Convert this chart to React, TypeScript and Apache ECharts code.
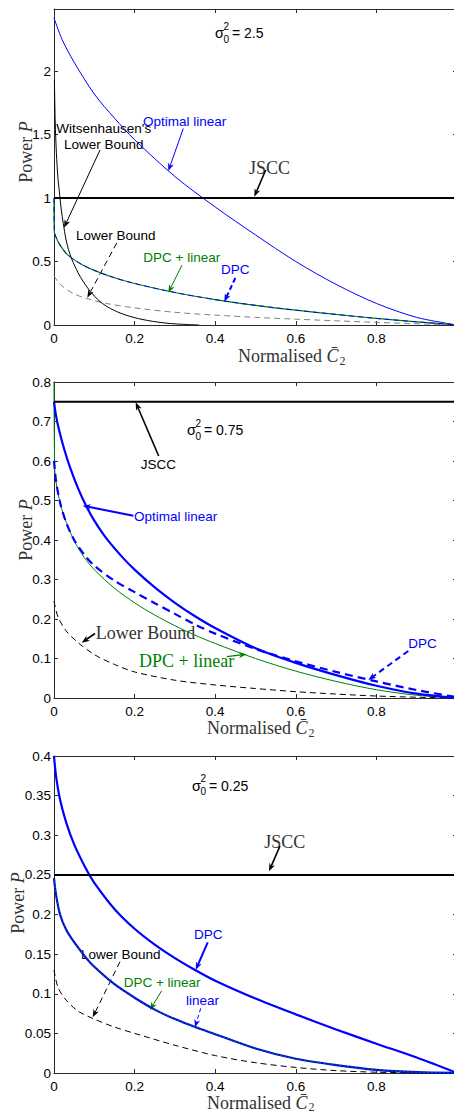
import React, { useEffect, useRef } from 'react';
import * as echarts from 'echarts';

// ---------- σ0² = 2.5 ----------
const optLin1X = [0, 0.02, 0.05, 0.1, 0.15, 0.2, 0.3, 0.4, 0.5, 0.6, 0.7, 0.8, 0.9, 1.0];
const optLin1Y = [2.42, 2.25, 2.07, 1.82, 1.63, 1.46, 1.17, 0.93, 0.71, 0.5, 0.32, 0.17, 0.06, 0];
const wit1X = [0.001, 0.003, 0.006, 0.01, 0.014, 0.018, 0.023, 0.03, 0.036, 0.044, 0.06, 0.073, 0.09, 0.114, 0.14, 0.172, 0.21, 0.255, 0.3, 0.36];
const wit1Y = [1.93, 1.6, 1.35, 1.15, 1.03, 0.91, 0.8, 0.67, 0.595, 0.52, 0.41, 0.34, 0.265, 0.185, 0.13, 0.085, 0.05, 0.024, 0.009, 0];
const dpcLin1X = [0, 0.001, 0.004, 0.008, 0.015, 0.03, 0.045, 0.07, 0.1, 0.15, 0.2, 0.3, 0.4, 0.5, 0.6, 0.7, 0.8, 0.9, 1.0];
const dpcLin1Y = [1.0, 0.73, 0.7, 0.67, 0.63, 0.565, 0.525, 0.475, 0.43, 0.372, 0.327, 0.256, 0.2, 0.155, 0.117, 0.083, 0.052, 0.025, 0];
const dpc1X = dpcLin1X;
const dpc1Y = [1.0, 0.73, 0.7, 0.67, 0.63, 0.565, 0.525, 0.475, 0.43, 0.372, 0.327, 0.256, 0.2, 0.155, 0.117, 0.083, 0.052, 0.025, 0];
const lower1X = [0, 0.01, 0.025, 0.05, 0.08, 0.13, 0.2, 0.3, 0.4, 0.5, 0.6, 0.7, 0.8, 0.9, 1.0];
const lower1Y = [0.39, 0.34, 0.295, 0.245, 0.21, 0.17, 0.135, 0.1, 0.078, 0.06, 0.046, 0.033, 0.021, 0.01, 0];
const jscc1 = 1.0;

// ---------- σ0² = 0.75 ----------
const optLin2X = [0, 0.005, 0.012, 0.025, 0.04, 0.06, 0.08, 0.1, 0.13, 0.17, 0.2, 0.25, 0.3, 0.35, 0.4, 0.5, 0.6, 0.7, 0.8, 0.9, 1.0];
const optLin2Y = [0.75, 0.715, 0.681, 0.631, 0.583, 0.53, 0.486, 0.449, 0.404, 0.356, 0.325, 0.28, 0.241, 0.207, 0.177, 0.126, 0.089, 0.058, 0.031, 0.011, 0];
const dpcLin2X = [0, 0.002, 0.007, 0.015, 0.025, 0.05, 0.075, 0.1, 0.15, 0.2, 0.25, 0.3, 0.35, 0.4, 0.5, 0.6, 0.7, 0.8, 0.9, 1.0];
const dpcLin2Y = [0.8, 0.575, 0.535, 0.495, 0.46, 0.398, 0.356, 0.325, 0.278, 0.241, 0.21, 0.183, 0.159, 0.138, 0.1, 0.068, 0.042, 0.021, 0.007, 0];
const dpc2X = [0, 0.005, 0.015, 0.03, 0.05, 0.075, 0.1, 0.15, 0.2, 0.25, 0.3, 0.35, 0.4, 0.5, 0.6, 0.7, 0.8, 0.9, 1.0];
const dpc2Y = [0.6, 0.55, 0.495, 0.445, 0.4, 0.363, 0.335, 0.297, 0.268, 0.24, 0.213, 0.186, 0.163, 0.124, 0.093, 0.066, 0.042, 0.02, 0.002];
const lower2X = [0, 0.01, 0.03, 0.06, 0.1, 0.15, 0.2, 0.3, 0.4, 0.5, 0.6, 0.7, 0.8, 0.9, 1.0];
const lower2Y = [0.245, 0.205, 0.17, 0.14, 0.11, 0.085, 0.066, 0.045, 0.033, 0.024, 0.016, 0.01, 0.005, 0.002, 0];
const jscc2 = 0.75;

// ---------- σ0² = 0.25 ----------
const dpc3X = [0, 0.005, 0.015, 0.03, 0.05, 0.08, 0.1, 0.15, 0.2, 0.25, 0.3, 0.35, 0.4, 0.5, 0.6, 0.7, 0.8, 0.9, 1.0];
const dpc3Y = [0.4, 0.375, 0.345, 0.3165, 0.2885, 0.257, 0.24, 0.207, 0.182, 0.162, 0.145, 0.13, 0.1165, 0.094, 0.074, 0.055, 0.037, 0.0195, 0];
const dpcLin3X = [0, 0.005, 0.015, 0.03, 0.05, 0.08, 0.1, 0.15, 0.2, 0.25, 0.3, 0.35, 0.4, 0.5, 0.6, 0.7, 0.8, 0.9, 1.0];
const dpcLin3Y = [0.246, 0.225, 0.2, 0.181, 0.165, 0.145, 0.134, 0.112, 0.095, 0.08, 0.068, 0.058, 0.049, 0.031, 0.018, 0.01, 0.004, 0.001, 0];
const lin3X = dpcLin3X;
const lin3Y = [0.246, 0.225, 0.2, 0.181, 0.165, 0.145, 0.134, 0.112, 0.095, 0.08, 0.068, 0.058, 0.049, 0.031, 0.018, 0.01, 0.004, 0.001, 0];
const lower3X = [0, 0.01, 0.03, 0.06, 0.1, 0.15, 0.2, 0.3, 0.4, 0.5, 0.6, 0.7, 0.8, 0.9, 1.0];
const lower3Y = [0.13, 0.108, 0.092, 0.078, 0.068, 0.058, 0.05, 0.035, 0.022, 0.013, 0.007, 0.003, 0.001, 0.0003, 0];
const jscc3 = 0.25;

// axis ranges and tick steps per panel
const yMax = [2.49, 0.8, 0.4];
const yStep = [0.5, 0.1, 0.05];
const xTickStep = 0.2;

const SANS = '"Liberation Sans", Arial, sans-serif';
const SERIF = '"Liberation Serif", "Times New Roman", serif';
const BLUE = '#0000ff';
const GREEN = '#008000';
const AXIS = '#2a2a2a';

const zip = (xs: number[], ys: number[]) => xs.map((x, i) => [x, ys[i]]);

function lineSeries(g: number, xs: number[], ys: number[], color: string, width: number, dash?: number[]) {
  return {
    type: 'line',
    xAxisIndex: 2 * g,
    yAxisIndex: 2 * g,
    data: zip(xs, ys),
    showSymbol: false,
    smooth: 0.3,
    silent: true,
    lineStyle: { color, width, type: dash ? dash : 'solid' },
  };
}

function jsccSeries(g: number, v: number) {
  return { ...lineSeries(g, [0, 1], [v, v], '#000', 2), smooth: false };
}

function arrow(x1: number, y1: number, x2: number, y2: number, color: string, width: number, dash?: number[], head = 8) {
  const a = Math.atan2(y2 - y1, x2 - x1);
  const c = Math.cos(a), s = Math.sin(a);
  const w = head * 0.38;
  const bx = x2 - head * c, by = y2 - head * s;
  const nx = x2 - head * 0.7 * c, ny = y2 - head * 0.7 * s;
  return [
    { type: 'line', silent: true, shape: { x1, y1, x2: nx, y2: ny }, style: { stroke: color, lineWidth: width, lineDash: dash || null } },
    {
      type: 'polygon', silent: true,
      shape: { points: [[x2, y2], [bx - w * s, by + w * c], [nx, ny], [bx + w * s, by - w * c]] },
      style: { fill: color },
    },
  ];
}

function txt(x: number, y: number, text: string, color: string, font: string, size: number, align = 'left') {
  return {
    type: 'text', silent: true, x, y,
    style: { text, fill: color, fontFamily: font, fontSize: size, align, verticalAlign: 'middle' },
  };
}

function sigma(x: number, y: number, value: string) {
  return [
    txt(x, y, 'σ', '#000', SANS, 14.5),
    txt(x + 8.5, y - 7, '2', '#000', SANS, 10),
    txt(x + 8.5, y + 6, '0', '#000', SANS, 10),
    txt(x + 17, y, '= ' + value, '#000', SANS, 14),
  ];
}

function powerTitle(x: number, y: number) {
  return {
    type: 'text', silent: true, x, y, rotation: Math.PI / 2,
    style: {
      text: 'Power {i|P}', fill: '#333', fontFamily: SERIF, fontSize: 18,
      align: 'center', verticalAlign: 'middle',
      rich: { i: { fontFamily: SERIF, fontSize: 18, fontStyle: 'italic', fill: '#333' } },
    },
  };
}

function normTitle(x: number, y: number) {
  return {
    type: 'text', silent: true, x, y,
    style: {
      text: 'Normalised {c|C\u0304}{s|2}', fill: '#333', fontFamily: SERIF, fontSize: 18,
      align: 'left', verticalAlign: 'middle',
      rich: {
        c: { fontFamily: SERIF, fontSize: 18, fontStyle: 'italic', fill: '#333' },
        s: { fontFamily: SERIF, fontSize: 12, fill: '#333', padding: [9, 0, 0, 1] },
      },
    },
  };
}

const grids = [
  { left: 54, width: 403, top: 9, height: 316 },
  { left: 54, width: 403, top: 382, height: 316 },
  { left: 54, width: 403, top: 756, height: 317 },
];

function fmtY(g: number) {
  return (v: number) => {
    const k = v / yStep[g];
    if (Math.abs(k - Math.round(k)) > 1e-6) return '';
    return String(parseFloat(v.toFixed(2)));
  };
}

export default function App() {
  const ref = useRef<HTMLDivElement>(null);

  useEffect(() => {
    if (!ref.current) return;
    const chart = echarts.init(ref.current, null, { renderer: 'svg' });

    const xAxes: any[] = [];
    const yAxes: any[] = [];
    grids.forEach((_, g) => {
      const lineStyle = { color: AXIS, width: 1 };
      xAxes.push({
        type: 'value', gridIndex: g, position: 'bottom', min: 0, max: 1, interval: xTickStep,
        axisLine: { show: true, onZero: false, lineStyle },
        axisTick: { show: true, inside: true, length: 4, lineStyle },
        axisLabel: {
          show: true, margin: 6, color: '#000', fontFamily: SANS, fontSize: 13.5, showMaxLabel: false,
          formatter: (v: number) => String(parseFloat(v.toFixed(2))),
        },
        splitLine: { show: false },
      });
      xAxes.push({
        type: 'value', gridIndex: g, position: 'top', min: 0, max: 1, interval: xTickStep,
        axisLine: { show: true, onZero: false, lineStyle },
        axisTick: { show: true, inside: true, length: 4, lineStyle },
        axisLabel: { show: false },
        splitLine: { show: false },
      });
      yAxes.push({
        type: 'value', gridIndex: g, position: 'left', min: 0, max: yMax[g], interval: yStep[g],
        axisLine: { show: true, onZero: false, lineStyle },
        axisTick: { show: true, inside: true, length: 4, lineStyle },
        axisLabel: { show: true, margin: 3, color: '#000', fontFamily: SANS, fontSize: 13.5, formatter: fmtY(g) },
        splitLine: { show: false },
      });
      yAxes.push({
        type: 'value', gridIndex: g, position: 'right', min: 0, max: yMax[g], interval: yStep[g],
        axisLine: { show: true, onZero: false, lineStyle },
        axisTick: { show: true, inside: true, length: 4, lineStyle },
        axisLabel: { show: false },
        splitLine: { show: false },
      });
    });

    const series = [
      // σ0² = 2.5
      lineSeries(0, lower1X, lower1Y, '#808080', 1, [6, 4]),
      lineSeries(0, optLin1X, optLin1Y, BLUE, 1),
      lineSeries(0, wit1X, wit1Y, '#000', 1),
      lineSeries(0, dpcLin1X, dpcLin1Y, GREEN, 1.2),
      lineSeries(0, dpc1X, dpc1Y, BLUE, 1, [5, 4]),
      jsccSeries(0, jscc1),
      // σ0² = 0.75
      lineSeries(1, lower2X, lower2Y, '#000', 1, [6, 4]),
      lineSeries(1, dpcLin2X, dpcLin2Y, GREEN, 1),
      lineSeries(1, optLin2X, optLin2Y, BLUE, 2.2),
      lineSeries(1, dpc2X, dpc2Y, BLUE, 2.2, [8, 5]),
      jsccSeries(1, jscc2),
      // σ0² = 0.25
      lineSeries(2, lower3X, lower3Y, '#000', 1, [6, 4]),
      lineSeries(2, lin3X, lin3Y, BLUE, 2.2),
      lineSeries(2, dpcLin3X, dpcLin3Y, GREEN, 1, [2, 2]),
      lineSeries(2, dpc3X, dpc3Y, BLUE, 2.2),
      jsccSeries(2, jscc3),
    ];

    const graphic: any[] = [
      // panel 1 annotations
      ...sigma(215, 33, '2.5'),
      txt(143, 121, 'Optimal linear', BLUE, SANS, 13.5),
      ...arrow(183.3, 128.5, 168.3, 171, BLUE, 1),
      txt(249, 168, 'JSCC', '#333', SERIF, 18),
      ...arrow(265.7, 170, 254.3, 196.7, '#000', 1.6),
      txt(103.7, 128.3, "Witsenhausen's", '#000', SANS, 13.5, 'center'),
      txt(103.7, 144, 'Lower Bound', '#000', SANS, 13.5, 'center'),
      ...arrow(100, 150, 64, 227.7, '#000', 1),
      txt(76, 235, 'Lower Bound', '#000', SANS, 13.5),
      ...arrow(116.7, 243, 87.3, 297.7, '#000', 1, [6, 4]),
      txt(143.3, 257.3, 'DPC + linear', GREEN, SANS, 13.5),
      ...arrow(182, 265, 168.3, 292.7, GREEN, 1),
      txt(221, 269.5, 'DPC', BLUE, SANS, 13.5),
      ...arrow(235.3, 278, 224.3, 301.7, BLUE, 2, [5, 3]),
      powerTitle(25.7, 152),
      normTitle(238, 356),

      // panel 2 annotations
      ...sigma(187, 430, '0.75'),
      txt(140.7, 464, 'JSCC', '#000', SANS, 13.5),
      ...arrow(158.7, 456, 135.7, 402.3, '#000', 1.6),
      txt(134, 516.7, 'Optimal linear', BLUE, SANS, 13.5),
      ...arrow(133.3, 515.7, 82.7, 505.7, BLUE, 2),
      txt(95.7, 633.3, 'Lower Bound', '#333', SERIF, 18),
      ...arrow(95, 633.5, 81.7, 642.7, '#000', 1.6),
      txt(139, 661, 'DPC + linear', GREEN, SERIF, 18),
      ...arrow(226.7, 656.7, 246.7, 654.3, GREEN, 1.2),
      txt(408.3, 643.3, 'DPC', BLUE, SANS, 13.5),
      ...arrow(408.3, 651, 368.3, 680, BLUE, 2, [6, 4]),
      powerTitle(25.7, 530),
      normTitle(207, 728),

      // panel 3 annotations
      ...sigma(192, 785.7, '0.25'),
      txt(264.3, 842.3, 'JSCC', '#333', SERIF, 18),
      ...arrow(280, 846, 269, 871.3, '#000', 1.6),
      txt(194, 934.3, 'DPC', BLUE, SANS, 13.5),
      ...arrow(207.7, 942.3, 195.7, 970, BLUE, 2),
      txt(81, 954, 'Lower Bound', '#000', SANS, 13.5),
      ...arrow(120, 961.7, 92.7, 1017.3, '#000', 1, [6, 4]),
      txt(123.7, 982.3, 'DPC + linear', GREEN, SANS, 13.5),
      ...arrow(161.7, 990.7, 150, 1010, GREEN, 1),
      txt(186, 1000.7, 'linear', BLUE, SANS, 13.5),
      ...arrow(200.7, 1008.3, 195, 1027.3, BLUE, 1, [4, 3]),
      powerTitle(18.3, 903),
      normTitle(207, 1102.7),
    ];

    chart.setOption({
      animation: false,
      backgroundColor: '#fff',
      grid: grids.map((g) => ({ ...g, containLabel: false, outerBoundsMode: 'none' })),
      xAxis: xAxes,
      yAxis: yAxes,
      series,
      graphic,
    });

    return () => chart.dispose();
  }, []);

  return (
    <div
      ref={ref}
      style={{ position: 'absolute', left: 0, top: 0, width: 454, height: 1113, background: '#fff' }}
    />
  );
}
